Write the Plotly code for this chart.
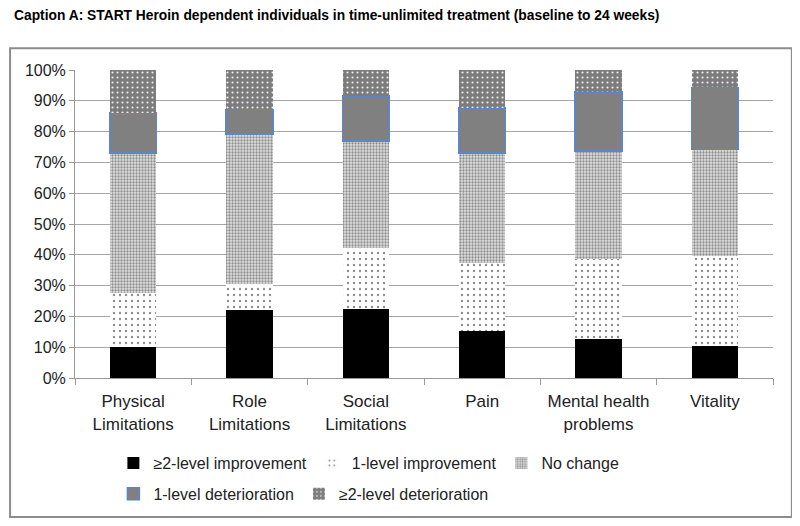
import plotly.graph_objects as go

# Data for the chart (percent of individuals)
categories = ["Physical<br>Limitations", "Role<br>Limitations", "Social<br>Limitations",
              "Pain", "Mental health<br>problems", "Vitality"]
improve_2 = [10.0, 22.0, 22.3, 15.3, 12.7, 10.5]
improve_1 = [17.5, 8.5, 19.8, 22.1, 25.9, 29.2]
no_change = [45.5, 48.7, 34.9, 35.7, 35.1, 34.5]
deterior_1 = [13.0, 8.0, 14.6, 14.6, 19.1, 20.2]
deterior_2 = [14.0, 12.8, 8.4, 12.3, 7.2, 5.6]
y_ticks = [0, 10, 20, 30, 40, 50, 60, 70, 80, 90, 100]
y_labels = [f"{t}%" for t in y_ticks]

fig = go.Figure()

# Stacked bars, bottom to top
fig.add_trace(go.Bar(
    x=categories, y=improve_2, name="≥2-level improvement",
    marker=dict(color="black", line=dict(width=0)),
    legend="legend"
))
fig.add_trace(go.Bar(
    x=categories, y=improve_1, name="1-level improvement",
    marker=dict(color="white", line=dict(width=0),
                pattern=dict(shape=".", fillmode="replace", bgcolor="white",
                             fgcolor="#8c8c8c", size=6, solidity=0.12)),
    legend="legend"
))
fig.add_trace(go.Bar(
    x=categories, y=no_change, name="No change",
    marker=dict(color="#c8c8c8", line=dict(width=0),
                pattern=dict(shape=".", fillmode="replace", bgcolor="#e2e2e2",
                             fgcolor="#8c8c8c", size=3, solidity=0.45)),
    legend="legend"
))
fig.add_trace(go.Bar(
    x=categories, y=deterior_1, name="1-level deterioration",
    marker=dict(color="#808080", line=dict(color="#5b86c9", width=1.5)),
    legend="legend2"
))
fig.add_trace(go.Bar(
    x=categories, y=deterior_2, name="≥2-level deterioration",
    marker=dict(color="#888888", line=dict(width=0),
                pattern=dict(shape=".", fillmode="replace", bgcolor="#7c7c7c",
                             fgcolor="#f0f0f0", size=5, solidity=0.14)),
    legend="legend2"
))

# page body has an 8px margin, so everything is shifted up/left by 8px
fig.update_layout(
    barmode="stack",
    bargap=0.6,
    width=800,
    height=526,
    margin=dict(l=67, r=35, t=62, b=156),
    paper_bgcolor="white",
    plot_bgcolor="white",
    font=dict(family="Liberation Sans, Arial", size=16, color="#222222"),
    showlegend=True,
    legend=dict(orientation="h", x=0.055, y=-0.221, xanchor="left", yanchor="top",
                font=dict(size=16), traceorder="normal", itemwidth=30,
                bgcolor="rgba(0,0,0,0)"),
    legend2=dict(orientation="h", x=0.055, y=-0.321, xanchor="left", yanchor="top",
                 font=dict(size=16), traceorder="normal", itemwidth=30,
                 bgcolor="rgba(0,0,0,0)"),
    xaxis=dict(
        showline=True, linecolor="#999999", linewidth=1,
        ticks="outside", tickson="boundaries", ticklen=6, tickcolor="#999999",
        showgrid=False, tickfont=dict(size=17), ticklabelstandoff=8
    ),
    yaxis=dict(
        range=[0, 100], tickvals=y_ticks, ticktext=y_labels,
        showline=True, linecolor="#999999", linewidth=1,
        showgrid=True, gridcolor="#a6a6a6", gridwidth=1,
        ticks="outside", ticklen=5, tickcolor="#999999",
        tickfont=dict(size=16), zeroline=False
    )
)

# Caption above the chart frame
fig.add_annotation(
    text="<b>Caption A: START Heroin dependent individuals in time-unlimited treatment (baseline to 24 weeks)</b>",
    xref="paper", yref="paper", x=-0.09, y=1.176, xanchor="left", yanchor="middle",
    showarrow=False, font=dict(size=13.8, color="black")
)

# Outer chart frame
fig.add_shape(
    type="rect", xref="paper", yref="paper",
    x0=-0.093, x1=1.027, y0=-0.451, y1=1.071,
    line=dict(color="#8c8c8c", width=2), layer="below"
)

fig.write_html("out.html")
